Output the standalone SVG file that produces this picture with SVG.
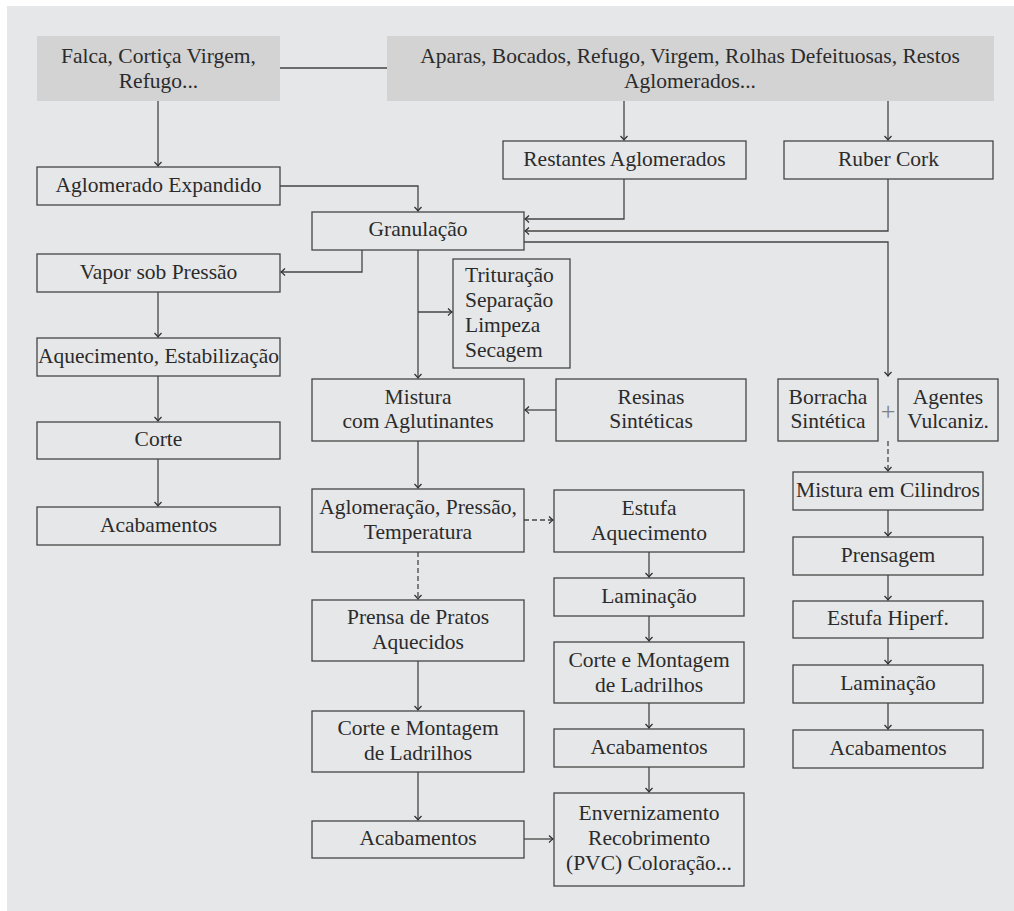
<svg xmlns="http://www.w3.org/2000/svg" width="1014" height="911" viewBox="0 0 1014 911" font-family="Liberation Serif, DejaVu Serif, serif">
<defs>
<style>
.bg{fill:#e6e7e9}
.src{fill:#d3d3d4;stroke:none}
.box{fill:none;stroke:#454545;stroke-width:1.3}
.t{font-size:21.5px;fill:#2b2b2b}
.c{text-anchor:middle}
.con{fill:none;stroke:#454545;stroke-width:1.3}
.dash{stroke-dasharray:5 3}
.plus{fill:#808080;font-size:26px}
</style>
<marker id="ah" viewBox="-6 -6 12 12" markerWidth="12" markerHeight="12" markerUnits="userSpaceOnUse" refX="0" refY="0" orient="auto">
<path d="M-4,-3.5 Q-1.5,-1 0,0 Q-1.5,1 -4,3.5" fill="none" stroke="#333" stroke-width="1.3"/>
</marker>
</defs>
<rect class="bg" x="7" y="6" width="1007" height="905"/>

<g id="connectors">
<path class="con" d="M280,68 H387"/>
<path class="con" d="M158,101 V166" marker-end="url(#ah)"/>
<path class="con" d="M624,101 V140" marker-end="url(#ah)"/>
<path class="con" d="M888,101 V140" marker-end="url(#ah)"/>
<path class="con" d="M280,186 H418 V211" marker-end="url(#ah)"/>
<path class="con" d="M624,179 V219 H525" marker-end="url(#ah)"/>
<path class="con" d="M888,179 V231 H525" marker-end="url(#ah)"/>
<path class="con" d="M524,242 H888 V376" marker-end="url(#ah)"/>
<path class="con" d="M362,250 V272 H281" marker-end="url(#ah)"/>
<path class="con" d="M418,250 V378" marker-end="url(#ah)"/>
<path class="con" d="M418,312 H452" marker-end="url(#ah)"/>
<path class="con" d="M158,292 V337" marker-end="url(#ah)"/>
<path class="con" d="M158,376 V421" marker-end="url(#ah)"/>
<path class="con" d="M158,459 V506" marker-end="url(#ah)"/>
<path class="con" d="M556,410 H525" marker-end="url(#ah)"/>
<path class="con" d="M418,441 V488" marker-end="url(#ah)"/>
<path class="con dash" d="M524,520 H553" marker-end="url(#ah)"/>
<path class="con dash" d="M418,552 V599" marker-end="url(#ah)"/>
<path class="con" d="M418,661 V710" marker-end="url(#ah)"/>
<path class="con" d="M418,772 V820" marker-end="url(#ah)"/>
<path class="con" d="M524,839 H553" marker-end="url(#ah)"/>
<path class="con" d="M649,552 V577" marker-end="url(#ah)"/>
<path class="con" d="M649,616 V641" marker-end="url(#ah)"/>
<path class="con" d="M649,703 V728" marker-end="url(#ah)"/>
<path class="con" d="M649,767 V792" marker-end="url(#ah)"/>
<path class="con dash" d="M888,441 V471" marker-end="url(#ah)"/>
<path class="con" d="M888,510 V536" marker-end="url(#ah)"/>
<path class="con" d="M888,575 V600" marker-end="url(#ah)"/>
<path class="con" d="M888,638 V664" marker-end="url(#ah)"/>
<path class="con" d="M888,703 V729" marker-end="url(#ah)"/>
</g>

<g id="n-falca"><rect class="src" x="37" y="36" width="243" height="65"/>
<text class="t c" x="158.5" y="63">Falca, Cortiça Virgem,</text><text class="t c" x="158.5" y="88">Refugo...</text></g>
<g id="n-aparas"><rect class="src" x="387" y="36" width="607" height="65"/>
<text class="t c" x="690" y="63">Aparas, Bocados, Refugo, Virgem, Rolhas Defeituosas, Restos</text><text class="t c" x="690" y="88">Aglomerados...</text></g>
<g id="n-aglexp"><rect class="box" x="37" y="167" width="243" height="38"/><text class="t c" x="158.5" y="192">Aglomerado Expandido</text></g>
<g id="n-restantes"><rect class="box" x="503" y="141" width="243" height="38"/><text class="t c" x="624.5" y="166">Restantes Aglomerados</text></g>
<g id="n-ruber"><rect class="box" x="784" y="141" width="209" height="38"/><text class="t c" x="888.5" y="166">Ruber Cork</text></g>
<g id="n-gran"><rect class="box" x="312" y="212" width="212" height="38"/><text class="t c" x="418" y="236">Granulação</text></g>
<g id="n-vapor"><rect class="box" x="37" y="254" width="243" height="38"/><text class="t c" x="158.5" y="279">Vapor sob Pressão</text></g>
<g id="n-aquec"><rect class="box" x="37" y="338" width="243" height="38"/><text class="t c" x="158.5" y="363">Aquecimento, Estabilização</text></g>
<g id="n-corte"><rect class="box" x="37" y="422" width="243" height="37"/><text class="t c" x="158.5" y="446">Corte</text></g>
<g id="n-acabL"><rect class="box" x="37" y="507" width="243" height="38"/><text class="t c" x="158.5" y="532">Acabamentos</text></g>
<g id="n-trit"><rect class="box" x="453" y="259" width="117" height="109"/>
<text class="t" x="465" y="282">Trituração</text><text class="t" x="465" y="307">Separação</text><text class="t" x="465" y="332">Limpeza</text><text class="t" x="465" y="357">Secagem</text></g>
<g id="n-mistura"><rect class="box" x="312" y="379" width="212" height="62"/><text class="t c" x="418" y="404">Mistura</text><text class="t c" x="418" y="428">com Aglutinantes</text></g>
<g id="n-resinas"><rect class="box" x="556" y="379" width="190" height="62"/><text class="t c" x="651" y="404">Resinas</text><text class="t c" x="651" y="428">Sintéticas</text></g>
<g id="n-borracha"><rect class="box" x="778" y="379" width="100" height="62"/><text class="t c" x="828" y="404">Borracha</text><text class="t c" x="828" y="428">Sintética</text></g>
<g id="n-plus"><text class="t c plus" x="888" y="420">+</text></g>
<g id="n-agentes"><rect class="box" x="898" y="379" width="100" height="62"/><text class="t c" x="948" y="404">Agentes</text><text class="t c" x="948" y="428">Vulcaniz.</text></g>
<g id="n-aglom"><rect class="box" x="312" y="489" width="212" height="63"/><text class="t c" x="418" y="514">Aglomeração, Pressão,</text><text class="t c" x="418" y="539">Temperatura</text></g>
<g id="n-estufa"><rect class="box" x="554" y="490" width="190" height="62"/><text class="t c" x="649" y="515">Estufa</text><text class="t c" x="649" y="540">Aquecimento</text></g>
<g id="n-prensa"><rect class="box" x="312" y="600" width="212" height="61"/><text class="t c" x="418" y="624">Prensa de Pratos</text><text class="t c" x="418" y="649">Aquecidos</text></g>
<g id="n-corteM"><rect class="box" x="312" y="711" width="212" height="61"/><text class="t c" x="418" y="735">Corte e Montagem</text><text class="t c" x="418" y="760">de Ladrilhos</text></g>
<g id="n-acabM"><rect class="box" x="312" y="821" width="212" height="37"/><text class="t c" x="418" y="845">Acabamentos</text></g>
<g id="n-lamin"><rect class="box" x="554" y="578" width="190" height="38"/><text class="t c" x="649" y="603">Laminação</text></g>
<g id="n-corteR"><rect class="box" x="554" y="642" width="190" height="61"/><text class="t c" x="649" y="667">Corte e Montagem</text><text class="t c" x="649" y="692">de Ladrilhos</text></g>
<g id="n-acabR"><rect class="box" x="554" y="729" width="190" height="38"/><text class="t c" x="649" y="754">Acabamentos</text></g>
<g id="n-enver"><rect class="box" x="554" y="793" width="190" height="93"/><text class="t c" x="649" y="820">Envernizamento</text><text class="t c" x="649" y="845">Recobrimento</text><text class="t c" x="649" y="870">(PVC) Coloração...</text></g>
<g id="n-mistcil"><rect class="box" x="793" y="472" width="190" height="38"/><text class="t c" x="888" y="497">Mistura em Cilindros</text></g>
<g id="n-prensagem"><rect class="box" x="793" y="537" width="190" height="38"/><text class="t c" x="888" y="562">Prensagem</text></g>
<g id="n-estufaH"><rect class="box" x="793" y="601" width="190" height="37"/><text class="t c" x="888" y="625">Estufa Hiperf.</text></g>
<g id="n-laminR"><rect class="box" x="793" y="665" width="190" height="38"/><text class="t c" x="888" y="690">Laminação</text></g>
<g id="n-acabRR"><rect class="box" x="793" y="730" width="190" height="38"/><text class="t c" x="888" y="755">Acabamentos</text></g>
</svg>
